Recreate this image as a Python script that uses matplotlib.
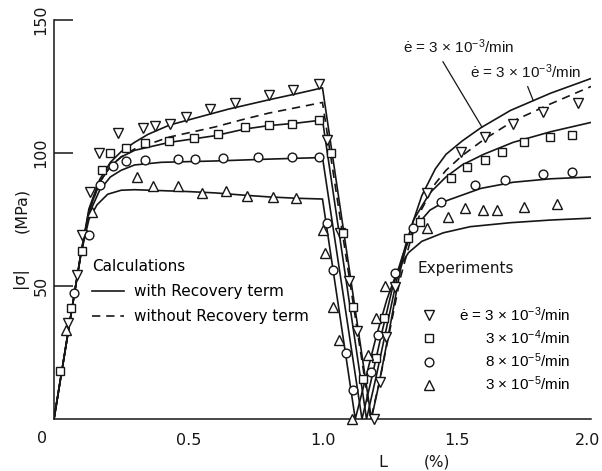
import numpy as np
import matplotlib
matplotlib.use("Agg")
import matplotlib.pyplot as plt
from matplotlib.transforms import ScaledTranslation

# ---------------- data (strain L in %, |stress| in MPa) ----------------
# calculated curves (loading -> unloading -> reversed loading)
calc_3e3_x = [0, 0.1, 0.13, 0.17, 0.21, 0.25, 0.3, 0.35, 0.43, 0.54, 0.65, 0.8, 0.9, 1.0,
              1.182, 1.21, 1.25, 1.29, 1.33, 1.37, 1.42, 1.46, 1.52, 1.59, 1.7, 1.85, 2.0]
calc_3e3_y = [0, 62, 79, 90, 96.5, 100.5, 104, 107, 110.5, 113.5, 116.5, 120, 122.2, 124.5,
              0, 13, 34, 56, 72, 84, 94, 99.5, 104.5, 109.5, 116, 122.5, 128]

calc_3e3_norec_x = [0, 0.1, 0.13, 0.17, 0.21, 0.25, 0.3, 0.43, 0.6, 0.7, 0.8, 0.9, 1.0,
                    1.18, 1.21, 1.25, 1.29, 1.33, 1.37, 1.42, 1.46, 1.52, 1.6, 1.71, 1.85, 2.0]
calc_3e3_norec_y = [0, 62, 78, 89, 95, 98.5, 101.5, 106, 109.8, 112.5, 115, 117, 119,
                    0, 13, 33, 53, 68, 79, 88.5, 93.5, 99, 105, 112, 118.5, 125]

calc_3e4_x = [0, 0.1, 0.13, 0.17, 0.21, 0.25, 0.3, 0.43, 0.6, 0.71, 0.8, 0.9, 1.0,
              1.164, 1.2, 1.24, 1.28, 1.31, 1.34, 1.4, 1.46, 1.52, 1.6, 1.71, 1.85, 2.0]
calc_3e4_y = [0, 62, 78, 89, 95, 98.5, 101, 104, 106.5, 109, 110.3, 111.2, 112.4,
              0, 16, 35, 54, 65.5, 75, 85, 91, 95.5, 99.5, 104, 108, 111.5]

calc_8e5_x = [0, 0.1, 0.13, 0.17, 0.21, 0.25, 0.3, 0.4, 0.6, 0.8, 1.0,
              1.147, 1.18, 1.22, 1.26, 1.3, 1.34, 1.4, 1.46, 1.59, 1.71, 1.85, 2.0]
calc_8e5_y = [0, 62, 77, 86, 91, 93.5, 95.5, 96.5, 97, 97.7, 98.3,
              0, 14, 32, 49, 62, 71.5, 78.5, 82, 86.7, 89, 90.3, 91]

calc_3e5_x = [0, 0.1, 0.13, 0.16, 0.2, 0.25, 0.3, 0.5, 0.6, 0.7, 0.8, 0.9, 1.0,
              1.122, 1.16, 1.2, 1.24, 1.28, 1.32, 1.37, 1.45, 1.55, 1.7, 1.85, 2.0]
calc_3e5_y = [0, 62, 75, 80.5, 84.5, 86, 86.2, 85.5, 85, 84.2, 83.5, 83, 82.7,
              0, 15, 31, 45, 56, 62.5, 66.8, 70, 72.3, 73.8, 74.8, 75.5]

# experiments
exp_3e3_x = [0.052, 0.085, 0.104, 0.134, 0.167, 0.24, 0.33, 0.376, 0.432, 0.49, 0.58, 0.674, 0.80, 0.89, 0.987,
             1.017, 1.065, 1.10, 1.128, 1.192,
             1.214, 1.236, 1.27, 1.39, 1.516, 1.605, 1.71, 1.82, 1.95]
exp_3e3_y = [36, 54, 69, 85.5, 100, 107.5, 109.4, 110, 111, 113.5, 116.5, 118.8, 121.8, 123.7, 126,
             105, 70, 52, 33, 0,
             14, 31, 49.6, 85, 100.4, 106, 111, 115.5, 118.8]

exp_3e4_x = [0.022, 0.063, 0.104, 0.18, 0.208, 0.27, 0.34, 0.43, 0.52, 0.61, 0.71, 0.80, 0.886, 0.987,
             1.03, 1.075, 1.113, 1.15,
             1.2, 1.23, 1.318, 1.363, 1.478, 1.54, 1.605, 1.67, 1.75, 1.847, 1.93]
exp_3e4_y = [18, 41.7, 63, 93.6, 100, 102, 103.7, 104.5, 105.6, 107, 109.8, 110.5, 111, 112.4,
             100, 70, 42, 15,
             23, 38, 68, 74, 90.6, 94.7, 97.4, 100.4, 104, 106, 106.8]

exp_8e5_x = [0.074, 0.13, 0.17, 0.22, 0.27, 0.34, 0.46, 0.525, 0.63, 0.76, 0.886, 0.987,
             1.017, 1.04, 1.087, 1.114,
             1.18, 1.207, 1.27, 1.337, 1.44, 1.568, 1.68, 1.82, 1.93]
exp_8e5_y = [47.4, 69, 88, 95, 97, 97.4, 97.7, 97.7, 98, 98.5, 98.5, 98.5,
             73.7, 56, 25, 11,
             17.7, 31.6, 55, 71.8, 81.6, 88, 90, 92, 93]

exp_3e5_x = [0.044, 0.14, 0.31, 0.37, 0.46, 0.55, 0.64, 0.72, 0.816, 0.90,
             1.0, 1.01, 1.04, 1.06, 1.11,
             1.17, 1.2, 1.232, 1.39, 1.467, 1.53, 1.597, 1.65, 1.75, 1.873]
exp_3e5_y = [33.5, 78, 91, 87.6, 87.6, 85, 85.7, 83.8, 83.5, 83,
             71, 62.4, 42, 29.7, 0,
             24, 38, 50, 71.8, 76, 79.3, 78.6, 78.6, 79.7, 80.8]

calc_labels = ["with Recovery term", "without Recovery term"]
exp_labels = [r"$\dot{e}$ = 3 × 10$^{-3}$/min", r"3 × 10$^{-4}$/min",
              r"8 × 10$^{-5}$/min", r"3 × 10$^{-5}$/min"]
annot_labels = [r"$\dot{e}$ = 3 × 10$^{-3}$/min", r"$\dot{e}$ = 3 × 10$^{-3}$/min"]
xtick_vals = [0.5, 1.0, 1.5, 2.0]
xtick_labels = ["0.5", "1.0", "1.5", "2.0"]
xtick_marks = [0.5, 1.0, 2.0]
ytick_vals = [50, 100, 150]
ytick_labels = ["50", "100", "150"]

# ---------------- figure ----------------
plt.rcParams['font.family'] = ['DejaVu Sans']
plt.rcParams['mathtext.fontset'] = 'custom'
plt.rcParams['mathtext.rm'] = 'Liberation Sans'
plt.rcParams['mathtext.it'] = 'Liberation Sans'
plt.rcParams['mathtext.bf'] = 'Liberation Sans:bold'
INK = '#161616'
ann_font = {'family': ['Liberation Sans', 'DejaVu Sans'], 'size': 11}

fig = plt.figure(figsize=(6.02, 4.71), dpi=100)
ax = fig.add_axes([54 / 602, 52 / 471, 537 / 602, 399 / 471])
ax.set_xlim(0, 2.0)
ax.set_ylim(0, 150)

lw = 1.2
l_solid, = ax.plot(calc_3e3_x, calc_3e3_y, '-', color=INK, lw=lw)
l_dash, = ax.plot(calc_3e3_norec_x, calc_3e3_norec_y, color=INK, lw=lw, ls=(0, (5, 3.5)))
ax.plot(calc_3e4_x, calc_3e4_y, '-', color=INK, lw=lw)
ax.plot(calc_8e5_x, calc_8e5_y, '-', color=INK, lw=lw)
ax.plot(calc_3e5_x, calc_3e5_y, '-', color=INK, lw=lw)

mk = dict(ls='none', mfc='white', mec=INK, mew=1.0, clip_on=False, zorder=3)
m1, = ax.plot(exp_3e3_x, exp_3e3_y, marker='v', ms=6.5, **mk)
m2, = ax.plot(exp_3e4_x, exp_3e4_y, marker='s', ms=5.5, **mk)
m3, = ax.plot(exp_8e5_x, exp_8e5_y, marker='o', ms=6.3, **mk)
m4, = ax.plot(exp_3e5_x, exp_3e5_y, marker='^', ms=6.5, **mk)

# axes styling
for s in ('top', 'right'):
    ax.spines[s].set_visible(False)
for s in ('left', 'bottom'):
    ax.spines[s].set_color(INK)
    ax.spines[s].set_linewidth(1.1)

ax.set_xticks(xtick_vals)
ax.set_xticklabels(xtick_labels)
ax.set_xticks(xtick_marks, minor=True)
ax.tick_params(axis='x', which='major', length=0, pad=10, labelsize=11.5, colors=INK)
ax.tick_params(axis='x', which='minor', direction='in', length=15, width=1.1, color=INK)
ax.set_yticks(ytick_vals)
ax.set_yticklabels(ytick_labels, rotation=90, va='center')
ax.tick_params(axis='y', direction='in', length=14, width=1.1, pad=4, labelsize=11.5, colors=INK)
last = ax.get_xticklabels()[-1]
last.set_transform(last.get_transform() + ScaledTranslation(-0.035, 0, fig.dpi_scale_trans))

ax.text(-0.022, -0.048, "0", transform=ax.transAxes, ha='center', va='center', fontsize=11.5, color=INK)
ax.text(0.6127, -0.108, "L", transform=ax.transAxes, ha='center', va='center', fontsize=11.5, color=INK)
ax.text(0.7132, -0.108, "(%)", transform=ax.transAxes, ha='center', va='center', fontsize=11, color=INK)
ax.text(-0.0596, 0.5238, "(MPa)", transform=ax.transAxes, ha='center', va='center', rotation=90, fontsize=11.5, color=INK)
ax.text(-0.0633, 0.3534, "|σ|", transform=ax.transAxes, ha='center', va='center', rotation=90, fontsize=11.5, color=INK)

# calculations legend
leg1 = ax.legend([l_solid, l_dash], calc_labels, title="Calculations", loc='upper left',
                 bbox_to_anchor=(0.0708, 0.401), frameon=False, alignment='left',
                 handlelength=2.1, handletextpad=0.65, labelspacing=0.65, borderpad=0,
                 borderaxespad=0, fontsize=11, title_fontsize=11)
ax.add_artist(leg1)

# experiments legend
ax.text(0.676, 0.378, "Experiments", transform=ax.transAxes, ha='left', va='center', fontsize=11, color=INK)
leg2 = ax.legend([m1, m2, m3, m4], exp_labels, loc='upper left', bbox_to_anchor=(0.685, 0.2857),
                 frameon=False, handlelength=1.0, handletextpad=1.45, labelspacing=0.3,
                 borderpad=0, borderaxespad=0, prop=ann_font)

# annotations (both lines end on the 3e-3/min curve)
ax.annotate(annot_labels[0], xy=(1.594, np.interp(1.594, calc_3e3_x[14:], calc_3e3_y[14:])),
            xytext=(1.30, 139.8), ha='left', va='center', color=INK,
            family=ann_font['family'], fontsize=11,
            arrowprops=dict(arrowstyle='-', lw=0.9, color=INK, relpos=(0.33, 0), shrinkA=2, shrinkB=0))
ax.annotate(annot_labels[1], xy=(1.785, np.interp(1.785, calc_3e3_x[14:], calc_3e3_y[14:])),
            xytext=(1.549, 130.5), ha='left', va='center', color=INK,
            family=ann_font['family'], fontsize=11,
            arrowprops=dict(arrowstyle='-', lw=0.9, color=INK, relpos=(0.5, 0), shrinkA=2, shrinkB=0))

# right-align experiment legend labels
fig.canvas.draw()
texts = leg2.get_texts()
widths = [t.get_window_extent().width for t in texts]
wmax = max(widths)
for t, w in zip(texts, widths):
    t.set_x(wmax - w)

fig.savefig("out.png", dpi=100)
